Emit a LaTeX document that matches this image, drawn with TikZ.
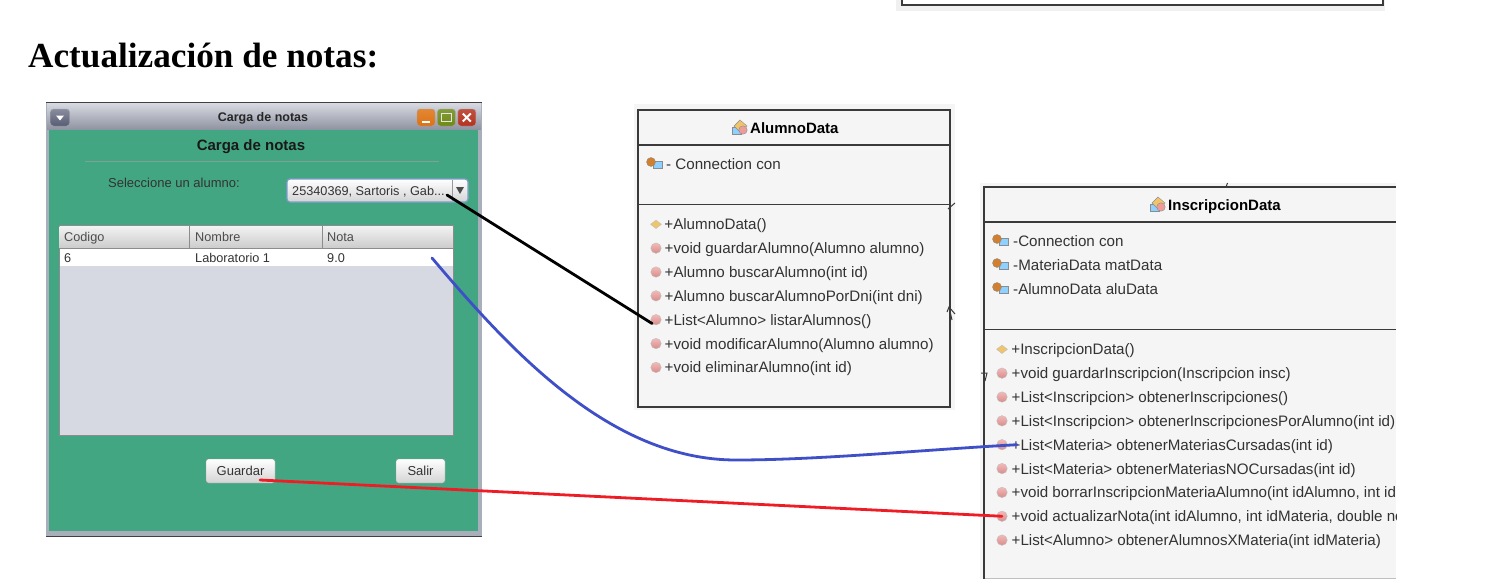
\documentclass[tikz,border=0pt]{standalone}
\usepackage{fontspec}
\setmainfont{Liberation Sans}
\newfontfamily\titlefont{Liberation Serif}
\usetikzlibrary{shapes.geometric, positioning, calc}
\usepackage{xcolor}
\definecolor{formgreen}{HTML}{43A682}
\definecolor{framegrey}{HTML}{A9AEBB}
\definecolor{tablegrey}{HTML}{D6D9E2}
\definecolor{panelgrey}{HTML}{F5F5F5}
\definecolor{umlline}{HTML}{3A3A3A}
\definecolor{umltext}{HTML}{333333}
\definecolor{opred}{HTML}{EE9C9A}
\definecolor{ctoryellow}{HTML}{EFC46A}
\definecolor{linkblue}{HTML}{3F4FC8}
\definecolor{linkred}{HTML}{EE1C25}
\definecolor{barlight}{HTML}{D8DAE2}
\definecolor{bardark}{HTML}{9094A2}
\definecolor{menuslate}{HTML}{565C74}
\definecolor{minorange}{HTML}{DD7212}
\definecolor{maxolive}{HTML}{6E8A16}
\definecolor{closered}{HTML}{B5321F}
\definecolor{comboblue}{HTML}{7F9CCB}
\tikzset{
  wintext/.style={inner sep=0, text=black!80, font=\fontsize{12.7}{14}\selectfont,
                  text height=10pt, text depth=2pt},
  cellhead/.style={wintext, anchor=west, text=black!70},
  cell/.style={wintext, anchor=west},
  winbtn/.style={rectangle, rounded corners=3pt, minimum width=18pt, minimum height=17pt,
                 inner sep=0, draw=black!35},
  formbtn/.style={rectangle, rounded corners=2.5pt, draw=black!40, top color=white,
                  bottom color=black!17, minimum height=24pt, inner sep=0,
                  text=black!80, font=\fontsize{13}{15}\selectfont},
  classname/.style={inner sep=0, text=black, font=\bfseries\fontsize{15}{17}\selectfont},
  mtext/.style={inner sep=0, anchor=west, text=umltext, font=\fontsize{15.15}{17}\selectfont,
                text height=11pt, text depth=0pt},
  opicon/.style={on grid, circle, draw=black!25, top color=opred!70, bottom color=opred!90!black,
                 minimum size=10.5pt, inner sep=0},
  ctoricon/.style={on grid, diamond, draw=black!25, fill=ctoryellow, minimum width=11pt,
                   minimum height=8.5pt, inner sep=0},
  umlbox/.style={draw=umlline, line width=1.2pt},
  link/.style={line width=2.8pt, line cap=round},
  pics/fieldico/.style={code={
    \fill[blue!40!cyan!45, draw=black!45, line width=.4pt] (-1,-3) rectangle (8,4);
    \fill[brown!70!orange, draw=black!45, line width=.4pt] (-3,-2) circle (4.5);
  }},
  pics/classico/.style={code={
    \fill[blue!40!cyan!45, draw=black!45, line width=.4pt] (-8,0) rectangle (1,7);
    \fill[ctoryellow, draw=black!45, line width=.4pt] (0,-7) -- (7,-1) -- (0,5) -- (-6,-1) -- cycle;
    \fill[opred, draw=black!45, line width=.4pt] (3,3) circle (4.2);
  }},
}
\begin{document}
\begin{tikzpicture}[x=1pt, y=-1pt, node distance=23.85pt]
  \useasboundingbox (0,0) rectangle (1495,586);

  % top edge of the previous figure
  \fill[black!6] (896,0) rectangle (1385,11);
  \fill[white] (902,0) rectangle (1383,5);
  \draw[umlline, line width=1.6pt] (902,0) -- (902,5) -- (1383,5) -- (1383,0);

  \node[anchor=west, inner sep=0, font=\titlefont\bfseries\fontsize{35.2}{38}\selectfont] (heading) at (28,56) {Actualización de notas:};

  % --- window ---
  \fill[framegrey] (46,102) rectangle (482,537);
  \draw[black!75, line width=1pt] (46,102.5) -- (482,102.5);
  \draw[black!75, line width=1pt] (46,536.5) -- (482,536.5);
  \shade[top color=barlight, bottom color=bardark] (47,103) rectangle (481,129);
  \fill[formgreen] (49,130) rectangle (478,531);
  \node[font=\bfseries\fontsize{12.5}{14}\selectfont, inner sep=0, text=black!85] (wintitle) at (263,118.5) {Carga de notas};

  \node[winbtn, top color=menuslate!70, bottom color=menuslate, minimum width=19pt] (menubtn) at (60,117.5) {};
  \fill[white] ($(menubtn)+(-4,-2)$) -- ($(menubtn)+(4,-2)$) -- ($(menubtn)+(0,3)$) -- cycle;
  \node[winbtn, top color=minorange!85, bottom color=minorange] (minbtn) at (426,117.5) {};
  \fill[white] ($(minbtn)+(-4,3)$) rectangle ($(minbtn)+(4,5)$);
  \node[winbtn, top color=maxolive!85, bottom color=maxolive, right=2pt of minbtn] (maxbtn) {};
  \draw[white!90!black, line width=1.4pt] ($(maxbtn)+(-5,-4)$) rectangle ($(maxbtn)+(5,4)$);
  \node[winbtn, top color=closered!85, bottom color=closered, right=2pt of maxbtn] (closebtn) {};
  \draw[white, line width=2pt] ($(closebtn)+(-4,-4)$) -- ($(closebtn)+(4,4)$) ($(closebtn)+(4,-4)$) -- ($(closebtn)+(-4,4)$);

  \node[font=\bfseries\fontsize{15}{17}\selectfont, inner sep=0, text=black!90] (formtitle) at (251,147) {Carga de notas};
  \draw[formgreen!60!black!60!white, line width=1pt] (85,161) -- (439,161);
  \node[cell, font=\fontsize{13}{15}\selectfont] (sellabel) at (108,183) {Seleccione un alumno:};

  \node[rectangle, rounded corners=3pt, draw=comboblue, line width=1.2pt, top color=white, bottom color=black!17,
        minimum width=181pt, minimum height=23pt, inner sep=0] (combo) at (377.5,190.5) {};
  \node[cell] (comboval) at (292,191) {25340369, Sartoris , Gab...};
  \draw[black!40] (452,180) -- (452,201);
  \fill[black!70] (456,187) -- (464,187) -- (460,194) -- cycle;

  % table
  \node[rectangle, draw=black!45, fill=tablegrey, minimum width=394pt, minimum height=210pt, inner sep=0] (table) at (256,330) {};
  \shade[top color=black!5, bottom color=black!20] (59.5,226) rectangle (452.5,248);
  \fill[white] (59.5,248) rectangle (452.5,266);
  \draw[black!45] (59,248) -- (453,248) (189,226) -- (189,248) (322,226) -- (322,248);
  \node[cellhead] (hcodigo) at (64,237) {Codigo};
  \node[cellhead] (hnombre) at (195,237) {Nombre};
  \node[cellhead] (hnota) at (327,237) {Nota};
  \node[cell] (ccodigo) at (64,258) {6};
  \node[cell] (cnombre) at (195,258) {Laboratorio 1};
  \node[cell] (cnota) at (327,258) {9.0};

  \node[formbtn, minimum width=69pt] (guardar) at (240.5,471) {Guardar};
  \node[formbtn, minimum width=49pt] (salir) at (420.5,471) {Salir};

  % --- AlumnoData ---
  \fill[panelgrey] (634,104) rectangle (955,410);
  \draw[umlbox] (638,110) rectangle (950,407);
  \draw[umlbox] (638,145) -- (950,145) (638,204.5) -- (950,204.5);
  \pic at (740,127) {classico};
  \node[classname, anchor=west] (alumnotitle) at (750,128) {AlumnoData};
  \pic at (654,164) {fieldico};
  \node[mtext] (afield) at (666,164) {- Connection con};

  \node[ctoricon] (aop0) at (656,224.3) {};
  \node[mtext, right=2.5pt of aop0] (amt0) {+AlumnoData()};
  \node[opicon, below=of aop0] (aop1) {};
  \node[mtext, right=3pt of aop1] (amt1) {+void guardarAlumno(Alumno alumno)};
  \node[opicon, below=of aop1] (aop2) {};
  \node[mtext, right=3pt of aop2] (amt2) {+Alumno buscarAlumno(int id)};
  \node[opicon, below=of aop2] (aop3) {};
  \node[mtext, right=3pt of aop3] (amt3) {+Alumno buscarAlumnoPorDni(int dni)};
  \node[opicon, below=of aop3] (aop4) {};
  \node[mtext, right=3pt of aop4] (amt4) {+List<Alumno> listarAlumnos()};
  \node[opicon, below=of aop4] (aop5) {};
  \node[mtext, right=3pt of aop5] (amt5) {+void modificarAlumno(Alumno alumno)};
  \node[opicon, below=of aop5] (aop6) {};
  \node[mtext, right=3pt of aop6] (amt6) {+void eliminarAlumno(int id)};

  % --- InscripcionData, cut off on the right ---
  \begin{scope}
    \clip (975,180) rectangle (1396,582);
    \fill[panelgrey] (980,183) rectangle (1396,579);
    \draw[black!25, line width=1pt] (984,578.5) -- (1396,578.5);
    \draw[umlbox] (1396,187) -- (984,187) -- (984,579);
    \draw[umlbox] (984,222) -- (1396,222) (984,329.5) -- (1396,329.5);
    \pic at (1158,204) {classico};
    \node[classname, anchor=west] (inscriptitle) at (1168,206.5) {InscripcionData};
    \fill[panelgrey] (1281,196) rectangle (1300,214);
    \pic at (1000,241) {fieldico};
    \node[mtext] (ifield1) at (1013,241) {-Connection con};
    \pic at (1000,265) {fieldico};
    \node[mtext] (ifield2) at (1013,265) {-MateriaData matData};
    \pic at (1000,289) {fieldico};
    \node[mtext] (ifield3) at (1013,289) {-AlumnoData aluData};

    \node[ctoricon] (iop0) at (1002,349.3) {};
    \node[mtext, right=3.5pt of iop0] (imt0) {+InscripcionData()};
    \node[opicon, below=of iop0] (iop1) {};
    \node[mtext, right=4pt of iop1] (imt1) {+void guardarInscripcion(Inscripcion insc)};
    \node[opicon, below=of iop1] (iop2) {};
    \node[mtext, right=4pt of iop2] (imt2) {+List<Inscripcion> obtenerInscripciones()};
    \node[opicon, below=of iop2] (iop3) {};
    \node[mtext, right=4pt of iop3] (imt3) {+List<Inscripcion> obtenerInscripcionesPorAlumno(int id)};
    \node[opicon, below=of iop3] (iop4) {};
    \node[mtext, right=4pt of iop4] (imt4) {+List<Materia> obtenerMateriasCursadas(int id)};
    \node[opicon, below=of iop4] (iop5) {};
    \node[mtext, right=4pt of iop5] (imt5) {+List<Materia> obtenerMateriasNOCursadas(int id)};
    \node[opicon, below=of iop5] (iop6) {};
    \node[mtext, right=4pt of iop6] (imt6) {+void borrarInscripcionMateriaAlumno(int idAlumno, int idMateria)};
    \node[opicon, below=of iop6] (iop7) {};
    \node[mtext, right=4pt of iop7] (imt7) {+void actualizarNota(int idAlumno, int idMateria, double nota)};
    \node[opicon, below=of iop7] (iop8) {};
    \node[mtext, right=4pt of iop8] (imt8) {+List<Alumno> obtenerAlumnosXMateria(int idMateria)};
  \end{scope}

  % stray ends of the hidden arrows
  \draw[umlline, line width=1pt] (948,209) -- (955,203);
  \draw[umlline, line width=1pt] (952,320) -- (949,307) (947,312) -- (949,307) -- (955,314);
  \draw[umlline, line width=1pt] (1226,187) -- (1227.5,183);
  \draw[umlline, line width=1pt] (981,373) -- (987,373) -- (985,381);

  % --- links drawn over the picture ---
  \coordinate (combotip) at (447,195);
  \coordinate (rowtip) at (432,258);
  \coordinate (curvelow) at (736,460);
  \coordinate (guardartip) at (260,480);
  \coordinate (cursadastip) at ($(iop4)+(15,0)$);
  \draw[link, black] (combotip) -- (aop4.south west);
  \draw[link, linkblue] (rowtip) .. controls (510,350) and (610,460) .. (curvelow)
        .. controls (820,460) and (920,450) .. (cursadastip);
  \draw[link, linkred] (guardartip) -- (iop7.center);
\end{tikzpicture}
\end{document}
